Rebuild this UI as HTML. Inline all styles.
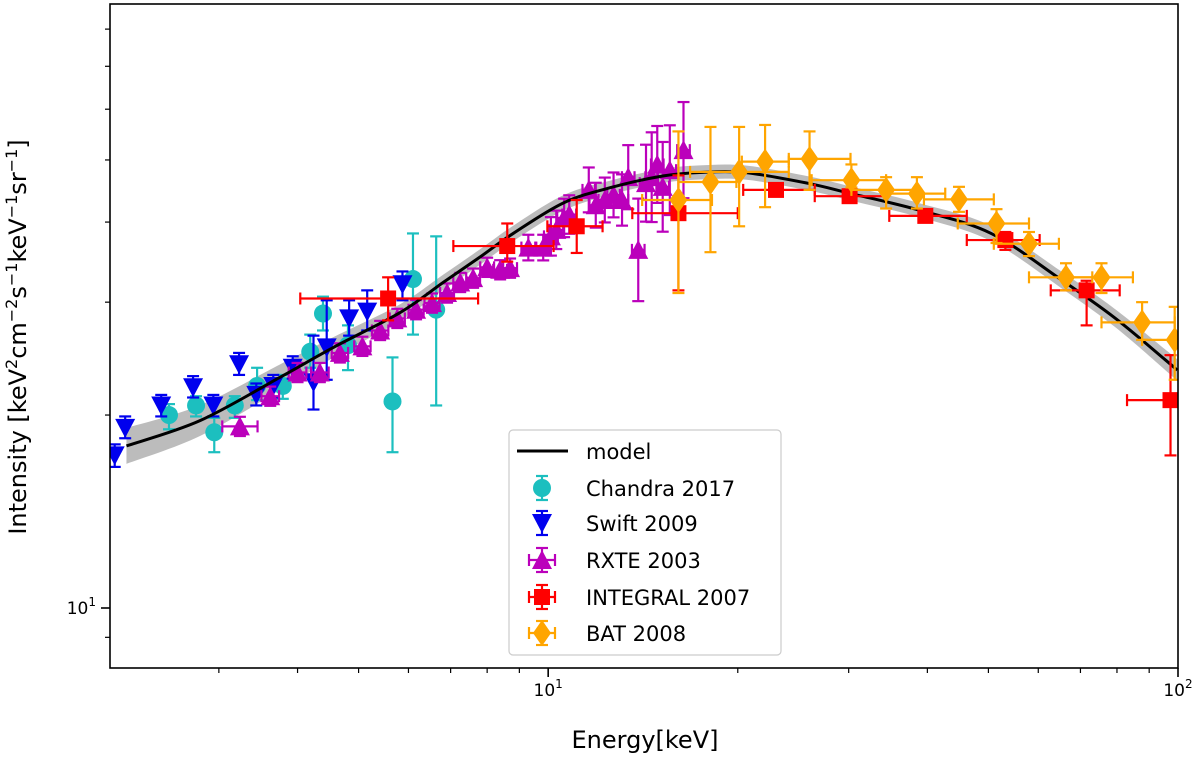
<!DOCTYPE html>
<html><head><meta charset="utf-8"><style>
html,body{margin:0;padding:0;background:#fff;}
svg{display:block;font-family:"DejaVu Sans","Liberation Sans",sans-serif;}
</style></head><body>
<svg id="chart" width="1200" height="758" viewBox="0 0 1200 758" xmlns="http://www.w3.org/2000/svg">
<g id="plot"></g>
<g id="axes"></g>
<g id="legend"></g>
</svg>
<script>
// ---- data ----
const modelE = [2.14,2.80,3.75,4.56,5.82,6.81,7.80,8.80,10.6,12.7,15.2,17.4,20.5,25.8,30.3,39.0,50.5,65.3,79.2,95.4,99.7];
const modelI = [17.9,19.6,22.9,25.5,28.9,32.2,35.3,38.4,42.9,45.4,47.2,47.8,47.8,46.0,44.3,41.7,38.4,32.5,28.4,24.4,23.5];
const modelBandDex = [0.028,0.024,0.02,0.016,0.013,0.012,0.012,0.012,0.012,0.011,0.011,0.011,0.011,0.011,0.011,0.011,0.012,0.013,0.014,0.016,0.017];

const chandraE = [2.50,2.76,2.95,3.18,3.45,3.79,4.19,4.39,4.81,5.66,6.10,6.64];
const chandraI = [20.0,20.7,18.8,20.7,22.2,22.2,25.1,28.8,25.7,21.0,32.6,29.2];
const chandraLo = [19.0,19.9,17.5,19.8,21.1,21.2,23.7,27.1,23.5,17.5,26.7,20.7];
const chandraHi = [20.8,21.4,19.8,21.4,23.7,23.1,26.7,30.6,27.6,24.6,38.4,38.0];

const swiftE = [2.05,2.13,2.43,2.73,2.94,3.23,3.44,3.66,3.93,4.24,4.45,4.83,5.16,5.87];
const swiftI = [17.3,19.1,20.7,22.1,20.7,24.0,21.5,22.2,23.7,22.5,25.5,28.3,29.0,32.0];
const swiftLo = [16.6,18.4,19.9,21.3,19.9,23.1,20.7,21.3,22.8,20.4,22.7,26.6,27.1,30.2];
const swiftHi = [18.0,19.9,21.5,23.0,21.5,25.0,22.4,23.1,24.7,26.6,30.2,30.2,31.3,33.5];

const rxteE = [3.24,3.62,4.00,4.34,4.67,5.07,5.41,5.76,6.17,6.54,6.91,7.25,7.60,8.00,8.39,8.70,9.30,9.82,10.1,10.3,10.6,10.8,11.6,11.9,12.3,12.7,13.1,13.4,13.9,14.3,14.6,14.9,15.2,15.6,16.4];
const rxteI = [19.2,21.4,23.3,23.3,25.0,25.6,27.1,28.3,29.2,29.9,31.0,32.2,32.7,34.0,33.7,33.9,36.5,36.5,38.0,38.9,40.6,41.1,44.9,42.5,43.3,44.1,43.3,47.0,36.2,46.0,47.0,49.2,45.4,48.2,51.8];
const rxteErrDex = [0.015,0.015,0.015,0.015,0.015,0.015,0.015,0.015,0.015,0.015,0.015,0.015,0.015,0.015,0.015,0.015,0.02,0.02,0.03,0.03,0.03,0.03,0.035,0.035,0.035,0.035,0.04,0.05,0.08,0.06,0.07,0.06,0.07,0.07,0.075];
const rxteXErrDex = [0.028,0.014,0.014,0.014,0.013,0.013,0.013,0.012,0.012,0.012,0.011,0.011,0.011,0.011,0.011,0.011,0.011,0.011,0.011,0.011,0.011,0.011,0.01,0.01,0.01,0.01,0.01,0.01,0.01,0.01,0.01,0.01,0.01,0.01,0.01];

const integralE = [5.57,8.61,11.1,16.1,23.0,30.1,39.7,53.2,71.6,97.3];
const integralELo = [4.04,7.07,9.97,13.6,20.4,26.5,34.8,46.2,62.8,83.0];
const integralEHi = [7.74,10.2,12.2,20.0,26.5,34.4,46.2,60.3,80.8,100];
const integralI = [30.4,36.7,39.4,41.3,44.9,43.9,40.9,37.5,31.3,21.1];
const integralLo = [28.1,34.7,35.8,31.3,44.1,43.1,40.1,36.2,27.6,17.3];
const integralHi = [32.8,39.8,43.3,47.3,45.8,44.7,41.7,38.6,32.4,24.8];

const batE = [16.1,18.1,20.1,22.1,26.0,30.3,34.4,38.5,44.9,51.5,58.0,66.4,75.6,87.7,98.8];
const batELo = [14.1,16.1,16.8,20.3,24.1,26.2,30.3,34.4,39.5,44.7,51.0,58.0,66.4,75.6,87.7];
const batEHi = [18.2,19.9,24.1,24.1,30.2,34.4,38.5,42.7,51.0,58.0,64.7,73.1,84.8,98.8,100];
const batI = [43.3,46.2,47.9,49.7,50.2,46.5,44.9,44.3,43.4,39.8,37.0,32.8,32.8,27.9,26.2];
const batLo = [31.0,35.9,39.4,42.2,44.9,45.3,42.0,42.0,41.5,37.1,35.4,31.3,31.0,26.2,22.7];
const batHi = [55.4,56.3,56.3,56.7,55.4,49.2,47.0,47.0,45.4,41.9,38.6,34.5,34.5,30.0,29.5];

// ---- axes ----
const L=110,R=1178,T=4,B=668;
const xMin=Math.log10(2.015),xMax=2;
const yMin=1-60/641, yMax=1+604/641;
function X(e){return L+(Math.log10(e)-xMin)/(xMax-xMin)*(R-L);}
function Y(v){return B-(Math.log10(v)-yMin)/(yMax-yMin)*(B-T);}
const NS="http://www.w3.org/2000/svg";
function mk(tag,attrs,parent){const el=document.createElementNS(NS,tag);for(const k in attrs)el.setAttribute(k,attrs[k]);parent.appendChild(el);return el;}
const plot=document.getElementById('plot'), axes=document.getElementById('axes'), legend=document.getElementById('legend');

// clip
const defs=mk('defs',{},plot);
const cp=mk('clipPath',{id:'clip'},defs);mk('rect',{x:L,y:T,width:R-L,height:B-T},cp);
const g=mk('g',{'clip-path':'url(#clip)'},plot);

// smooth path helper (catmull-rom)
function smooth(pts){let d='M'+pts[0][0]+','+pts[0][1];
 for(let i=0;i<pts.length-1;i++){const p0=pts[i-1]||pts[i],p1=pts[i],p2=pts[i+1],p3=pts[i+2]||p2;
  const c1=[p1[0]+(p2[0]-p0[0])/6,p1[1]+(p2[1]-p0[1])/6],c2=[p2[0]-(p3[0]-p1[0])/6,p2[1]-(p3[1]-p1[1])/6];
  d+=` C${c1[0]},${c1[1]} ${c2[0]},${c2[1]} ${p2[0]},${p2[1]}`;}return d;}

// band
const up=modelE.map((e,i)=>[X(e),Y(modelI[i]*Math.pow(10,modelBandDex[i]))]);
const dn=modelE.map((e,i)=>[X(e),Y(modelI[i]/Math.pow(10,modelBandDex[i]))]).reverse();
const band=mk('path',{d:smooth(up)+' L'+dn[0][0]+','+dn[0][1]+smooth(dn).slice(smooth(dn).indexOf(' C'))+' Z',fill:'#b0b0b0','fill-opacity':'0.85',stroke:'none'},g);



function errbar(par,x,y1,y2,col,cap){mk('line',{x1:x,y1:y1,x2:x,y2:y2,stroke:col,'stroke-width':2.2},par);
 mk('line',{x1:x-cap,y1:y1,x2:x+cap,y2:y1,stroke:col,'stroke-width':2.2},par);
 mk('line',{x1:x-cap,y1:y2,x2:x+cap,y2:y2,stroke:col,'stroke-width':2.2},par);}
function herr(par,x1,x2,y,col,cap){mk('line',{x1:x1,y1:y,x2:x2,y2:y,stroke:col,'stroke-width':2.2},par);
 mk('line',{x1:x1,y1:y-cap,x2:x1,y2:y+cap,stroke:col,'stroke-width':2.2},par);
 mk('line',{x1:x2,y1:y-cap,x2:x2,y2:y+cap,stroke:col,'stroke-width':2.2},par);}
function marker(par,type,x,y,col){
 if(type==='o')return mk('circle',{cx:x,cy:y,r:9,fill:col},par);
 if(type==='v')return mk('polygon',{points:`${x-10},${y-9} ${x+10},${y-9} ${x},${y+10}`,fill:col},par);
 if(type==='^')return mk('polygon',{points:`${x-10},${y+9} ${x+10},${y+9} ${x},${y-10}`,fill:col},par);
 if(type==='s')return mk('rect',{x:x-8,y:y-8,width:16,height:16,fill:col},par);
 if(type==='d')return mk('polygon',{points:`${x},${y-13} ${x+9},${y} ${x},${y+13} ${x-9},${y}`,fill:col},par);}

// Chandra
chandraE.forEach((e,i)=>{const p=mk('g',{},g);
 
 
 errbar(p,X(e),Y(chandraHi[i]),Y(chandraLo[i]),'#1cbfbf',6);marker(p,'o',X(e),Y(chandraI[i]),'#1cbfbf');});
// Swift
swiftE.forEach((e,i)=>{const p=mk('g',{},g);
 
 
 errbar(p,X(e),Y(swiftHi[i]),Y(swiftLo[i]),'#0000ee',6);marker(p,'v',X(e),Y(swiftI[i]),'#0000ee');});
// RXTE
rxteE.forEach((e,i)=>{const p=mk('g',{},g);
 
 
 const f=Math.pow(10,rxteErrDex[i]),fx=Math.pow(10,rxteXErrDex[i]);
 errbar(p,X(e),Y(rxteI[i]*f),Y(rxteI[i]/f),'#bb00bb',6);
 herr(p,X(e/fx),X(e*fx),Y(rxteI[i]),'#bb00bb',6);
 marker(p,'^',X(e),Y(rxteI[i]),'#bb00bb');});
// model line (drawn before integral/bat to be under them)
const ml=mk('path',{d:smooth(modelE.map((e,i)=>[X(e),Y(modelI[i])])),fill:'none',stroke:'#000','stroke-width':3},g);


// INTEGRAL
integralE.forEach((e,i)=>{const p=mk('g',{},g);
 
 
 errbar(p,X(e),Y(integralHi[i]),Y(integralLo[i]),'#ff0000',6);
 herr(p,X(integralELo[i]),X(integralEHi[i]),Y(integralI[i]),'#ff0000',6);
 marker(p,'s',X(e),Y(integralI[i]),'#ff0000');});
// BAT
batE.forEach((e,i)=>{const p=mk('g',{},g);
 
 
 errbar(p,X(e),Y(batHi[i]),Y(batLo[i]),'#ffa500',6);
 herr(p,X(batELo[i]),X(batEHi[i]),Y(batI[i]),'#ffa500',6);
 marker(p,'d',X(e),Y(batI[i]),'#ffa500');});

// frame
const fr=mk('rect',{x:L,y:T,width:R-L,height:B-T,fill:'none',stroke:'#000','stroke-width':1.6},axes);


// x ticks
const xMinor=[3,4,5,6,7,8,9,20,30,40,50,60,70,80,90];
xMinor.forEach(v=>mk('line',{x1:X(v),y1:B,x2:X(v),y2:B+5,stroke:'#000','stroke-width':1.2},axes));
[10,100].forEach((v,i)=>{mk('line',{x1:X(v),y1:B,x2:X(v),y2:B+9,stroke:'#000','stroke-width':1.6},axes);
 const t=mk('text',{x:X(v),y:B+28,'text-anchor':'middle','font-size':17,fill:'#000'},axes);
 
 
 t.innerHTML='10<tspan dy="-8" font-size="12">'+(i+1)+'</tspan>';});
// y ticks
const yMinor=[9,20,30,40,50,60,70,80];
yMinor.forEach(v=>mk('line',{x1:L-5,y1:Y(v),x2:L,y2:Y(v),stroke:'#000','stroke-width':1.2},axes));
mk('line',{x1:L-9,y1:Y(10),x2:L,y2:Y(10),stroke:'#000','stroke-width':1.6},axes);
const yt=mk('text',{x:L-14,y:Y(10)+6,'text-anchor':'end','font-size':17,fill:'#000'},axes);


yt.innerHTML='10<tspan dy="-8" font-size="12">1</tspan>';
// axis titles
const xl=mk('text',{x:645,y:748,'text-anchor':'middle','font-size':24,fill:'#000'},axes);


xl.textContent='Energy[keV]';
const yl=mk('text',{x:0,y:0,'text-anchor':'middle','font-size':24,fill:'#000',transform:'translate(26,337) rotate(-90)'},axes);


yl.innerHTML='Intensity [keV<tspan dy="-9" font-size="16">2</tspan><tspan dy="9">cm</tspan><tspan dy="-9" font-size="16">−2</tspan><tspan dy="9">s</tspan><tspan dy="-9" font-size="16">−1</tspan><tspan dy="9">keV</tspan><tspan dy="-9" font-size="16">−1</tspan><tspan dy="9">sr</tspan><tspan dy="-9" font-size="16">−1</tspan><tspan dy="9">]</tspan>';

// legend
mk('rect',{x:509,y:430,width:272,height:225,rx:4,fill:'#fff','fill-opacity':0.85,stroke:'#ccc','stroke-width':1.2},legend);
const items=[['model','line','#000'],['Chandra 2017','o','#1cbfbf'],['Swift 2009','v','#0000ee'],['RXTE 2003','^','#bb00bb'],['INTEGRAL 2007','s','#ff0000'],['BAT 2008','d','#ffa500']];
const ly=[451,488,523,560,597,633];
items.forEach((it,i)=>{const e=mk('g',{},legend);
 
 
 const y=ly[i],x=542;
 if(it[1]==='line')mk('line',{x1:517,y1:y,x2:568,y2:y,stroke:'#000','stroke-width':3},e);
 else{errbar(e,x,y-12,y+12,it[2],6);if(i>=3)herr(e,x-13,x+13,y,it[2],6);marker(e,it[1],x,y,it[2]);}
 const t=mk('text',{x:586,y:y+8,'font-size':21,fill:'#000'},e);t.textContent=it[0];});
</script>
</body></html>
